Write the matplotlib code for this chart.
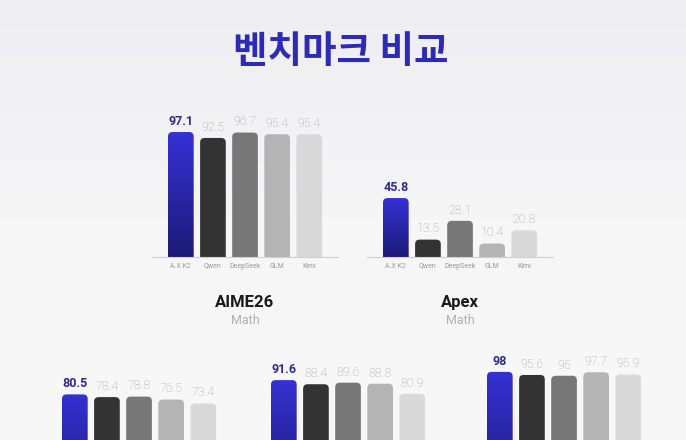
import numpy as np
import matplotlib
matplotlib.use("Agg")
import matplotlib.pyplot as plt
from matplotlib.patches import FancyBboxPatch
from matplotlib.colors import LinearSegmentedColormap

# data
models = ["A.X K2", "Qwen", "DeepSeek", "GLM", "Kimi"]
aime26 = [97.1, 92.5, 96.7, 95.4, 95.4]
apex = [45.8, 13.5, 28.1, 10.4, 20.8]
row2_a = [80.5, 78.4, 78.8, 76.5, 73.4]
row2_b = [91.6, 88.4, 89.6, 88.8, 80.9]
row2_c = [98, 95.6, 95, 97.7, 95.9]
bench_names = ["AIME26", "Apex", None, None, None]
bench_tags = ["Math", "Math", None, None, None]

W, H = 686, 440
bar_colors = [None, "#333333", "#777777", "#b4b4b4", "#d9d9d9"]
blue_cmap = LinearSegmentedColormap.from_list("ax", ["#1d1a78", "#3531d4"])

plt.rcParams["font.family"] = ["Roboto", "DejaVu Sans"]

fig = plt.figure(figsize=(W / 100, H / 100), dpi=100)

# background
bg = fig.add_axes([0, 0, 1, 1])
grad = np.linspace(0, 1, 256).reshape(-1, 1)
bg_cmap = LinearSegmentedColormap.from_list("bg", ["#eeeef2", "#f6f6f7", "#f8f8f9"])
bg.imshow(grad, aspect="auto", cmap=bg_cmap, extent=(0, 1, 0, 1), origin="upper")
bg.axis("off")

fig.text(341 / W, 1 - 52 / H, "벤치마크 비교", ha="center", va="center",
         fontsize=27, fontweight="bold", color="#2d2ab6",
         family=["Noto Sans CJK KR", "DejaVu Sans"])

PITCH = 32.1   # px per x unit
YSCALE = 1.287  # px per value unit


def draw_group(start_px, base_px, values, name, tag, show_ticks):
    left = start_px + 0.4 * PITCH - 0.9 * PITCH
    width = 5.8 * PITCH
    height = 100 * YSCALE
    ax = fig.add_axes([left / W, (H - base_px) / H, width / W, height / H])
    ax.patch.set_alpha(0)
    for s in ["top", "left", "right"]:
        ax.spines[s].set_visible(False)
    ax.spines["bottom"].set_color("#cfcfcf")
    ax.spines["bottom"].set_linewidth(0.8)
    ax.set_yticks([])
    ax.set_xticks(range(len(models)))
    if show_ticks:
        ax.set_xticklabels(models, fontsize=5, color="#9a9a9a")
    else:
        ax.set_xticklabels([])
    ax.tick_params(axis="x", length=0, pad=4)

    r = 4.5 / PITCH
    aspect = PITCH / YSCALE
    for i, v in enumerate(values):
        # start below the baseline so the lower corners get clipped away
        patch = FancyBboxPatch((i - 0.4, -8), 0.8, v + 8,
                               boxstyle=f"round,pad=0,rounding_size={r}",
                               mutation_aspect=aspect, linewidth=0,
                               facecolor=bar_colors[i] or "none", zorder=2)
        ax.add_patch(patch)
        if i == 0:
            img = ax.imshow(np.linspace(0, 1, 100).reshape(-1, 1), cmap=blue_cmap,
                            extent=(i - 0.4, i + 0.4, 0, v), origin="lower",
                            aspect="auto", zorder=2)
            img.set_clip_path(patch)
        label = f"{v:g}"
        if i == 0:
            ax.annotate(label, (i, v), xytext=(0, 3), textcoords="offset points",
                        ha="center", va="bottom", fontsize=9, fontweight="bold",
                        color="#2e2a8c")
        else:
            ax.annotate(label, (i, v), xytext=(0, 3), textcoords="offset points",
                        ha="center", va="bottom", fontsize=9, fontweight="light",
                        color="#a3a3a3")
    ax.set_aspect("auto")
    ax.set_xlim(-0.9, 4.9)
    ax.set_ylim(0, 100)

    cx = (start_px + 77) / W
    if name:
        fig.text(cx, 1 - (base_px + 45) / H, name, ha="center", va="center",
                 fontsize=12, fontweight="bold", color="#1a1a1a")
    if tag:
        fig.text(cx, 1 - (base_px + 64) / H, tag, ha="center", va="center",
                 fontsize=9, color="#b0b0b0")


groups = [(168, 257, aime26, True), (383, 257, apex, True),
          (62, 498, row2_a, False), (271, 498, row2_b, False),
          (487, 498, row2_c, False)]
for (start, base, vals, ticks), name, tag in zip(groups, bench_names, bench_tags):
    draw_group(start, base, vals, name, tag, ticks)

fig.savefig("out.png", dpi=100)
